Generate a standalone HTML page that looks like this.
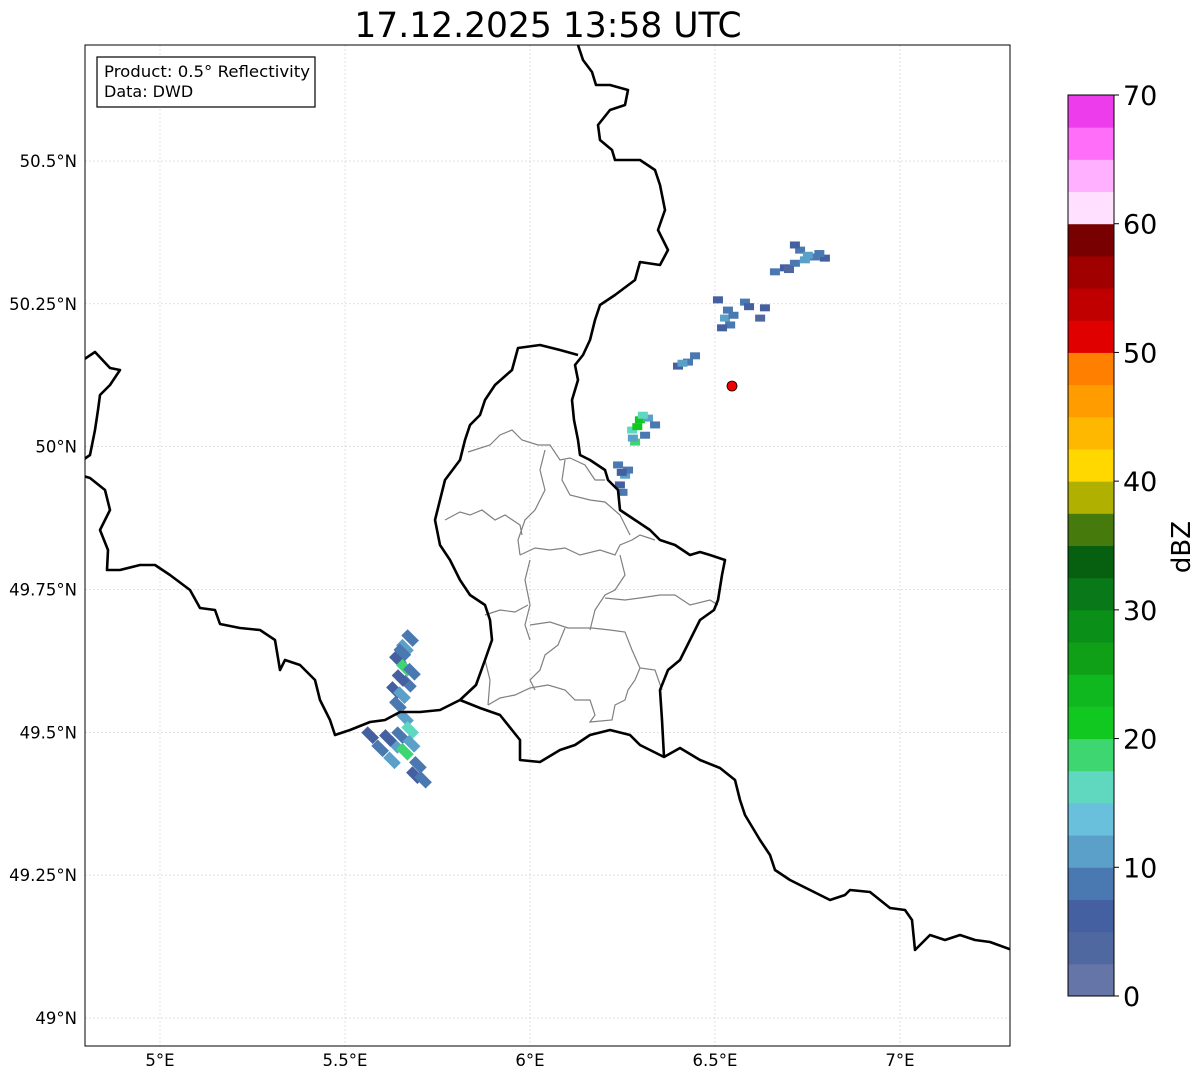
<!DOCTYPE html>
<html><head><meta charset="utf-8"><style>
body{margin:0;background:#fff;width:1202px;height:1081px;overflow:hidden;font-family:"DejaVu Sans","Liberation Sans",sans-serif}
svg text{font-family:"DejaVu Sans","Liberation Sans",sans-serif}
</style></head><body>
<svg id="chart" width="1202" height="1081" xmlns="http://www.w3.org/2000/svg">
<text x="548" y="37" font-size="34.5" text-anchor="middle">17.12.2025 13:58 UTC</text>
<defs><clipPath id="mapclip"><rect x="85" y="45" width="925" height="1001"/></clipPath></defs>
<g id="grid"></g>
<g clip-path="url(#mapclip)">
<g fill="none" stroke="#808080" stroke-width="1.2">
<path d="M468,452 L490,445 L500,435 L512,430 L522,440 L538,445 L550,445 L560,460 L570,458 L585,465 L595,480 L605,480"/>
<path d="M545,450 L540,470 L545,490 L535,510 L525,520 L518,540 L520,555"/>
<path d="M445,520 L460,512 L470,515 L482,510 L495,520 L505,515 L520,525 L522,535"/>
<path d="M565,460 L562,480 L570,495 L590,500 L605,502 L620,515 L630,535"/>
<path d="M520,555 L535,548 L550,550 L565,548 L580,555 L600,550 L615,555 L620,545 L632,540 L640,535 L655,540"/>
<path d="M620,555 L625,575 L615,590 L605,595 L595,610 L590,630"/>
<path d="M530,560 L525,580 L530,605 L525,625 L530,640"/>
<path d="M485,615 L500,610 L515,612 L528,605"/>
<path d="M530,625 L550,622 L568,628 L592,628 L610,630 L625,632 L632,650 L640,668 L655,670 L662,690"/>
<path d="M605,598 L625,600 L640,598 L660,595 L675,595 L690,605 L710,600 L718,605"/>
<path d="M565,628 L558,645 L545,655 L540,670 L530,680 L535,690"/>
<path d="M488,705 L500,698 L515,695 L530,688 L548,685 L565,690 L575,700 L590,700 L595,715 L590,722 L612,720 L615,705 L625,700 L628,690 L635,680 L640,668"/>
<path d="M485,660 L490,680 L488,705"/>
</g>
<g id="echoes"></g>
<g fill="none" stroke="#000" stroke-width="2.6" stroke-linejoin="round">
<path d="M578,45 L583,60 L592,72 L596,85 L610,85 L628,90 L625,105 L610,110 L598,125 L600,140 L612,150 L615,160 L640,160 L655,170 L660,185 L665,210 L658,230 L668,250 L660,265 L640,262 L635,280 L615,295 L600,305 L595,320 L590,340 L583,355 L575,365 L578,380 L572,400 L574,420 L578,440 L580,455 L590,460 L605,470 L608,480 L618,490 L620,510 L635,520 L650,530 L660,540 L675,545 L690,555 L700,552 L710,555 L725,560 L722,575 L718,600 L714,610 L700,620 L690,640 L680,660 L668,670 L660,690 L662,720 L664,757"/>
<path d="M578,355 L560,350 L540,345 L518,348 L512,370 L495,385 L485,400 L480,415 L470,425 L465,440 L460,460 L445,480 L440,500 L435,520 L440,545 L450,560 L460,580 L470,595 L485,605 L490,620 L492,640 L485,660 L476,685 L460,700 L440,710 L420,712 L400,712 L385,720 L370,722 L350,730 L335,735 L330,720 L320,700 L315,680 L300,665 L285,660 L280,670 L275,640 L260,630 L240,628 L220,624 L215,610 L200,608 L190,590 L170,575 L155,565 L140,565 L120,570 L107,570 L108,550 L100,530 L110,510 L105,490 L90,478 L80,475"/>
<path d="M460,700 L480,708 L500,715 L520,740 L520,760 L540,762 L560,750 L575,745 L590,735 L610,730 L630,735 L640,745 L664,757 L680,748 L700,760 L720,768 L735,780 L740,800 L745,815 L760,840 L770,855 L775,870 L790,880 L810,890 L830,900 L845,895 L850,890 L870,892 L880,900 L890,908 L905,910 L912,920 L915,950 L930,935 L945,940 L960,935 L975,940 L990,942 L1012,950"/>
<path d="M80,362 L95,352 L110,368 L120,370 L110,385 L100,395 L98,410 L95,430 L90,455 L80,462"/>
</g>
<circle cx="732" cy="386" r="5" fill="#f00000" stroke="#000" stroke-width="0.8"/>
</g>
<rect x="85" y="45" width="925" height="1001" fill="none" stroke="#000" stroke-width="1"/>
<g>
<rect x="97" y="57" width="218" height="50" fill="#fff" stroke="#000" stroke-width="1.2"/>
<text x="104" y="77" font-size="16" textLength="206" lengthAdjust="spacingAndGlyphs">Product: 0.5° Reflectivity</text>
<text x="104" y="97" font-size="16">Data: DWD</text>
</g>
<g id="xticks"></g>
<g id="yticks"></g>
<g id="cbar"></g>
<text transform="translate(1190,547) rotate(-90)" font-size="26" text-anchor="middle">dBZ</text>
</svg>
<script>
const lonTicks=[5,5.5,6,6.5,7];
const lonLabels=["5°E","5.5°E","6°E","6.5°E","7°E"];
const latTicks=[49,49.25,49.5,49.75,50,50.25,50.5];
const latLabels=["49°N","49.25°N","49.5°N","49.75°N","50°N","50.25°N","50.5°N"];
const cbarColors=["#6575a8","#5068a0","#4460a0","#4a78b0","#5ba0c8","#68c0dc","#60d8c0","#3ed670","#10c820","#10b820","#10a018","#0a9018","#087818","#066010","#467a0c","#b0b000","#ffd800","#ffb800","#ff9c00","#ff8000","#e00000","#c00000","#a00000","#780000","#ffe0ff","#ffb0ff","#ff6ef8","#ec3cec"];
const cbarTicks=[0,10,20,30,40,50,60,70];
const cells=[
[6.662,50.306,8],[6.689,50.313,5],[6.716,50.321,8],[6.743,50.327,10],[6.770,50.332,8],[6.797,50.330,5],[6.730,50.344,8],[6.716,50.353,5],[6.751,50.335,12],[6.700,50.310,3],[6.782,50.338,8],
[6.527,50.225,12],[6.535,50.239,8],[6.541,50.213,8],[6.519,50.208,5],[6.581,50.253,8],[6.635,50.243,5],[6.622,50.225,3],[6.508,50.257,5],[6.550,50.230,8],[6.592,50.245,5],
[6.427,50.148,8],[6.446,50.159,8],[6.400,50.141,5],[6.412,50.146,12],
[6.276,50.029,15],[6.297,50.047,20],[6.319,50.050,10],[6.338,50.038,8],[6.284,50.008,18],[6.311,50.020,8],[6.290,50.035,22],[6.305,50.055,15],[6.278,50.015,10],
[6.238,49.968,8],[6.257,49.950,10],[6.243,49.933,5],[6.265,49.959,8],[6.248,49.955,5],[6.250,49.920,8],
[5.676,49.665,8],[5.662,49.648,10],[5.643,49.627,5],[5.662,49.613,18],[5.681,49.606,8],[5.635,49.574,5],[5.654,49.565,10],[5.643,49.548,8],[5.662,49.525,12],[5.676,49.504,16],[5.649,49.495,8],[5.635,49.478,10],[5.662,49.466,18],[5.697,49.443,8],[5.616,49.490,5],[5.568,49.495,5],[5.689,49.425,5],[5.711,49.417,8],[5.595,49.472,8],[5.627,49.451,10],[5.670,49.585,8],[5.650,49.595,5],[5.680,49.480,10],[5.655,49.640,8]];
const X=lon=>160+(lon-5)*370;
const Y=lat=>161+(50.5-lat)*571.3;
const NS="http://www.w3.org/2000/svg";
function mk(tag,attrs,parent){const e=document.createElementNS(NS,tag);for(const k in attrs)e.setAttribute(k,attrs[k]);parent.appendChild(e);return e;}
const grid=document.getElementById('grid'),xt=document.getElementById('xticks'),yt=document.getElementById('yticks');
lonTicks.forEach((v,i)=>{
 const l=mk('line',{x1:X(v),x2:X(v),y1:45,y2:1046,stroke:'#c4c4c4','stroke-width':0.5,'stroke-dasharray':'2,2'},grid);
 
 
 const t=mk('text',{x:X(v),y:1066,'font-size':16.5,'text-anchor':'middle'},xt);t.textContent=lonLabels[i];
 
 
});
latTicks.forEach((v,i)=>{
 const l=mk('line',{x1:85,x2:1010,y1:Y(v),y2:Y(v),stroke:'#c4c4c4','stroke-width':0.5,'stroke-dasharray':'2,2'},grid);
 
 
 const t=mk('text',{x:77,y:Y(v)+6,'font-size':16.5,'text-anchor':'end'},yt);t.textContent=latLabels[i];
 
 
});
const colorFor=d=>cbarColors[Math.max(0,Math.min(cbarColors.length-1,Math.floor(d/2.5)))];
const eg=document.getElementById('echoes');
cells.forEach(c=>{
 const cx=X(c[0]),cy=Y(c[1]);
 const sw=c[0]<6;
 const w=sw?16:10,h=sw?9:7;
 const a={x:cx-w/2,y:cy-h/2,width:w,height:h,fill:colorFor(c[2])};
 if(sw)a.transform=`rotate(45 ${cx} ${cy})`;
 const r=mk('rect',a,eg);
 
 
});
const cb=document.getElementById('cbar');
const cbTop=95,cbBot=996,cbX=1068,cbW=46;
const cY=v=>cbBot-(v/70)*(cbBot-cbTop);
cbarColors.forEach((col,i)=>{
 const r=mk('rect',{x:cbX,y:cY((i+1)*2.5),width:cbW,height:cY(i*2.5)-cY((i+1)*2.5)+0.5,fill:col},cb);
 
 
});
mk('rect',{x:cbX,y:cbTop,width:cbW,height:cbBot-cbTop,fill:'none',stroke:'#000','stroke-width':1},cb);
cbarTicks.forEach(v=>{
 mk('line',{x1:cbX+cbW,x2:cbX+cbW+5,y1:cY(v),y2:cY(v),stroke:'#000'},cb);
 const t=mk('text',{x:cbX+cbW+9,y:cY(v)+10,'font-size':27},cb);t.textContent=v;
 
 
});
</script>
</body></html>
